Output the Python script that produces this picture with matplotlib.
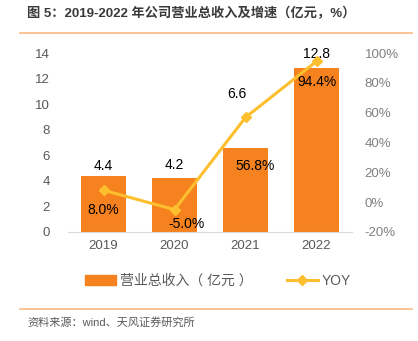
import matplotlib
matplotlib.use("Agg")
import matplotlib.pyplot as plt
from matplotlib.lines import Line2D
from matplotlib.patches import Patch

plt.rcParams['font.family'] = ['Liberation Sans', 'Noto Sans CJK SC', 'DejaVu Sans']

years = ["2019", "2020", "2021", "2022"]
revenue = [4.4, 4.2, 6.6, 12.8]
yoy = [8.0, -5.0, 56.8, 94.4]
rev_labels = ["4.4", "4.2", "6.6", "12.8"]
yoy_labels = ["8.0%", "-5.0%", "56.8%", "94.4%"]

bar_color = "#F5821F"
line_color = "#FDBF2D"

fig = plt.figure(figsize=(4.18, 3.41), dpi=100)
ax = fig.add_axes([68/418, 1-232/341, (352-68)/418, (232-53)/341])
x = list(range(len(years)))
ax.bar(x, revenue, width=0.62, color=bar_color, zorder=2)
ax.set_xlim(-0.5, 3.5)
ax.set_ylim(0, 14)
ax.set_yticks(range(0, 15, 2))
ax.set_xticks(x)
ax.set_xticklabels(years)
for s in ["top", "right", "left"]:
    ax.spines[s].set_visible(False)
ax.spines["bottom"].set_color("#D9D9D9")
ax.tick_params(axis="both", length=0, colors="#595959", labelsize=9.5)
ax.tick_params(axis="x", pad=6)
ax.tick_params(axis="y", pad=13)

ax2 = ax.twinx()
ax2.plot(x, yoy, color=line_color, lw=2.2, marker="D", ms=5.5, zorder=3)
ax2.set_ylim(-20, 100)
ax2.set_yticks(range(-20, 101, 20))
ax2.set_yticklabels([f"{v}%" for v in range(-20, 101, 20)])
for s in ["top", "right", "left", "bottom"]:
    ax2.spines[s].set_visible(False)
ax2.tick_params(axis="y", length=0, colors="#808080", labelsize=9.5, pad=9)

rev_off = [(0, 10), (0, 13), (-9, 54), (0, 14)]
for i, (v, t) in enumerate(zip(revenue, rev_labels)):
    ax.annotate(t, (i, v), xytext=rev_off[i], textcoords="offset pixels",
                ha="center", va="center", fontsize=10, color="#000000", zorder=5)
yoy_off = [(0, -20), (12, -14), (10, -49), (0, -21)]
for i, (v, t) in enumerate(zip(yoy, yoy_labels)):
    ax2.annotate(t, (i, v), xytext=yoy_off[i], textcoords="offset pixels",
                 ha="center", va="center", fontsize=10, color="#000000", zorder=5)

handles = [Patch(color=bar_color),
           Line2D([0], [0], color=line_color, lw=2.2, marker="D", ms=5.5)]
fig.legend(handles, ["营业总收入（ 亿元 ）", "YOY"], loc="center",
           bbox_to_anchor=(218/418, 1-281/341), ncol=2, frameon=False,
           fontsize=10, labelcolor="#595959", handlelength=2.2,
           columnspacing=2.5, handletextpad=0.3)

fig.text(27/418, 1-14/341, "图 5：2019-2022 年公司营业总收入及增速（亿元，%）",
         fontsize=9.5, color="#3A3A3A", va="center", ha="left", weight="bold")
fig.add_artist(Line2D([20/418, 412/418], [1-33/341, 1-33/341], color="#F8B980", lw=1.2))
fig.add_artist(Line2D([20/418, 412/418], [1-309/341, 1-309/341], color="#F8B980", lw=1.2))
fig.text(27/418, 1-322/341, "资料来源：wind、天风证券研究所",
         fontsize=8, color="#595959", va="center", ha="left")

fig.savefig("out.png", dpi=100)
